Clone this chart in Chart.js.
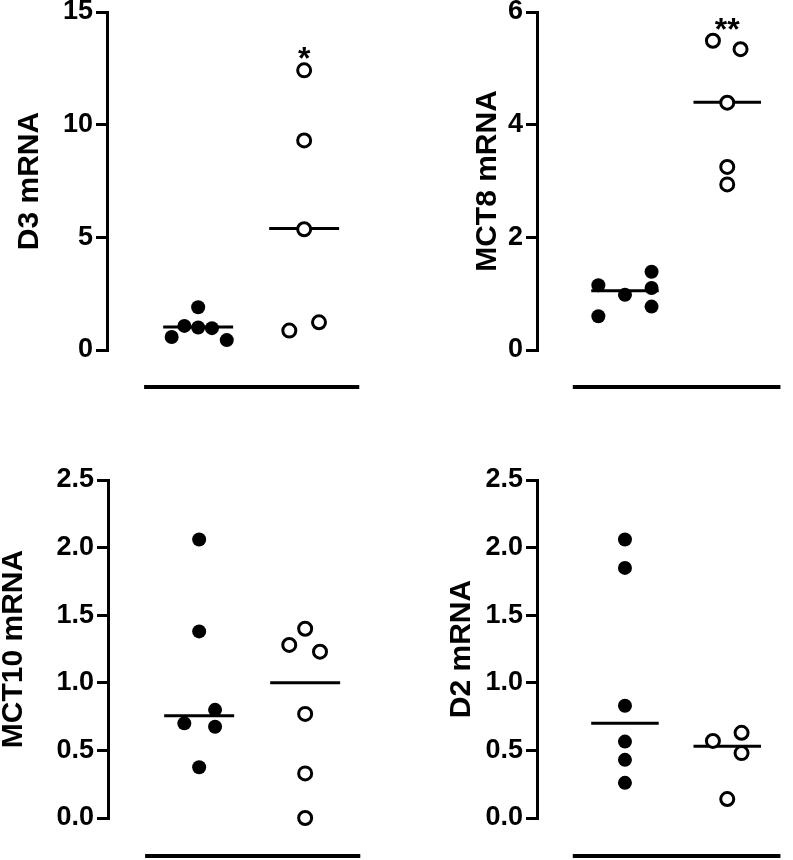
<!DOCTYPE html>
<html><head><meta charset="utf-8">
<script src="https://cdn.jsdelivr.net/npm/chart.js@4/dist/chart.umd.min.js"></script>
<style>
html,body{margin:0;padding:0;background:#fff;}
#wrap{position:relative;width:793px;height:860px;overflow:hidden;background:#fff;}
canvas{position:absolute;}
</style></head><body>
<div id="wrap">
<canvas id="c1"></canvas>
<canvas id="c2"></canvas>
<canvas id="c3"></canvas>
<canvas id="c4"></canvas>
</div>
<script>
// ---------- data ----------
const groups = [1, 2]; // 1 = filled circles, 2 = open circles

// D3 mRNA
const d3Filled = [0.58, 1.07, 1.90, 1.00, 0.97, 0.44];
const d3FilledJitter = [-0.25, -0.13, 0, 0, 0.13, 0.27];
const d3Open = [12.41, 9.30, 5.36, 0.86, 1.23];
const d3OpenJitter = [0, 0, 0, -0.14, 0.14];
const d3Medians = [1.02, 5.39];
const d3Ticks = [0, 5, 10, 15];
const d3TickLabels = ['0', '5', '10', '15'];
const d3Sig = '*';

// MCT8 mRNA
const mct8Filled = [1.15, 0.60, 0.98, 1.39, 1.10, 0.77];
const mct8FilledJitter = [-0.26, -0.26, 0, 0.26, 0.26, 0.26];
const mct8Open = [5.49, 5.34, 4.39, 3.25, 2.94];
const mct8OpenJitter = [-0.14, 0.13, 0, 0, 0];
const mct8Medians = [1.05, 4.40];
const mct8Ticks = [0, 2, 4, 6];
const mct8TickLabels = ['0', '2', '4', '6'];
const mct8Sig = '**';

// MCT10 mRNA
const mct10Filled = [2.06, 1.38, 0.80, 0.70, 0.675, 0.375];
const mct10FilledJitter = [0, 0, 0.15, -0.14, 0.15, 0];
const mct10Open = [1.40, 1.28, 1.23, 0.77, 0.33, 0.0];
const mct10OpenJitter = [0, -0.15, 0.14, 0, 0, 0];
const mct10Medians = [0.757, 1.00];
const mct10Ticks = [0, 0.5, 1.0, 1.5, 2.0, 2.5];
const mct10TickLabels = ['0.0', '0.5', '1.0', '1.5', '2.0', '2.5'];
const mct10Sig = '';

// D2 mRNA
const d2Filled = [2.06, 1.85, 0.83, 0.565, 0.43, 0.26];
const d2FilledJitter = [0, 0, 0, 0, 0, 0];
const d2Open = [0.57, 0.63, 0.48, 0.14];
const d2OpenJitter = [-0.14, 0.14, 0.14, 0];
const d2Medians = [0.70, 0.53];
const d2Ticks = [0, 0.5, 1.0, 1.5, 2.0, 2.5];
const d2TickLabels = ['0.0', '0.5', '1.0', '1.5', '2.0', '2.5'];
const d2Sig = '';

// ---------- drawing ----------
const FONT = '"Liberation Sans", Arial, Helvetica, sans-serif';
const XMIN = 0.14, XMAX = 2.55, PX_PER_UNIT = 106;
const PLOT_W = (XMAX - XMIN) * PX_PER_UNIT;

const groupBarPlugin = {
  id: 'groupBar',
  afterDatasetsDraw(chart, args, opts) {
    const {ctx, chartArea, scales: {x, y}} = chart;
    ctx.save();
    ctx.strokeStyle = '#000';
    ctx.lineWidth = 4;
    const yy = chartArea.bottom + opts.gap;
    ctx.beginPath();
    ctx.moveTo(x.getPixelForValue(opts.from), yy);
    ctx.lineTo(x.getPixelForValue(opts.to), yy);
    ctx.stroke();
    if (opts.sig) {
      const maxV = Math.max(...opts.sigValues);
      ctx.fillStyle = '#000';
      ctx.font = 'bold 32px ' + FONT;
      ctx.textAlign = 'center';
      ctx.textBaseline = 'alphabetic';
      ctx.fillText(opts.sig, x.getPixelForValue(groups[1]), y.getPixelForValue(maxV) - 1);
    }
    ctx.restore();
  }
};

function pts(vals, jit, g) {
  return vals.map((v, i) => ({x: g + jit[i], y: v}));
}

function makePanel(id, p) {
  const cv = document.getElementById(id);
  cv.width = p.cw; cv.height = p.ch;
  cv.style.left = p.cl + 'px'; cv.style.top = p.ct + 'px';
  cv.style.width = p.cw + 'px'; cv.style.height = p.ch + 'px';
  const axisW = p.axisX - p.cl;
  const padTop = p.top - p.ct;
  const padBottom = p.ct + p.ch - p.bottom;
  const padRight = p.cl + p.cw - (p.axisX + PLOT_W);
  const medianSets = p.medians.map((m, i) => ({
    data: [{x: groups[i] - 0.33, y: m}, {x: groups[i] + 0.33, y: m}],
    showLine: true, borderColor: '#000', borderWidth: 3, pointRadius: 0, order: 3, clip: false
  }));
  new Chart(cv, {
    type: 'scatter',
    data: {
      datasets: [
        {data: pts(p.filled, p.filledJ, groups[0]), pointRadius: 7, pointBackgroundColor: '#000',
         pointBorderColor: '#000', pointBorderWidth: 0, order: 1, clip: false},
        {data: pts(p.open, p.openJ, groups[1]), pointRadius: 6.5, pointBackgroundColor: '#fff',
         pointBorderColor: '#000', pointBorderWidth: 3, order: 1, clip: false},
        ...medianSets
      ]
    },
    options: {
      responsive: false,
      animation: false,
      devicePixelRatio: 1,
      layout: {padding: {top: padTop, bottom: padBottom, left: 0, right: padRight}},
      plugins: {
        legend: {display: false}, tooltip: {enabled: false},
        groupBar: {gap: p.gap, from: 0.49, to: 2.52, sig: p.sig, sigValues: p.open}
      },
      scales: {
        x: {type: 'linear', min: XMIN, max: XMAX, display: false},
        y: {
          type: 'linear', min: p.ticks[0], max: p.ticks[p.ticks.length - 1],
          afterBuildTicks: s => { s.ticks = p.ticks.map(v => ({value: v})); },
          afterFit: s => { s.width = axisW; },
          ticks: {callback: (v, i) => p.tickLabels[i], color: '#000', padding: 3,
                  font: {family: FONT, size: 27, weight: 'bold'}},
          grid: {drawOnChartArea: false, drawTicks: true, tickLength: 11, color: '#000', lineWidth: 3},
          border: {display: true, color: '#000', width: 3},
          title: {display: true, text: p.title, color: '#000',
                  font: {family: FONT, size: 30, weight: 'bold'},
                  padding: {top: p.titlePad, bottom: 0}}
        }
      }
    },
    plugins: [groupBarPlugin]
  });
}

makePanel('c1', {cl: 0, ct: -20, cw: 400, ch: 420, axisX: 107, top: 12, bottom: 350, gap: 37, titlePad: 12,
  title: 'D3 mRNA', filled: d3Filled, filledJ: d3FilledJitter, open: d3Open, openJ: d3OpenJitter,
  medians: d3Medians, ticks: d3Ticks, tickLabels: d3TickLabels, sig: d3Sig});
makePanel('c2', {cl: 400, ct: -20, cw: 393, ch: 420, axisX: 537, top: 12, bottom: 350, gap: 37, titlePad: 70,
  title: 'MCT8 mRNA', filled: mct8Filled, filledJ: mct8FilledJitter, open: mct8Open, openJ: mct8OpenJitter,
  medians: mct8Medians, ticks: mct8Ticks, tickLabels: mct8TickLabels, sig: mct8Sig});
makePanel('c3', {cl: -10, ct: 440, cw: 410, ch: 420, axisX: 108, top: 480, bottom: 818, gap: 38, titlePad: 6,
  title: 'MCT10 mRNA', filled: mct10Filled, filledJ: mct10FilledJitter, open: mct10Open, openJ: mct10OpenJitter,
  medians: mct10Medians, ticks: mct10Ticks, tickLabels: mct10TickLabels, sig: mct10Sig});
makePanel('c4', {cl: 400, ct: 440, cw: 393, ch: 420, axisX: 537, top: 480, bottom: 818, gap: 38, titlePad: 44,
  title: 'D2 mRNA', filled: d2Filled, filledJ: d2FilledJitter, open: d2Open, openJ: d2OpenJitter,
  medians: d2Medians, ticks: d2Ticks, tickLabels: d2TickLabels, sig: d2Sig});
</script>
</body></html>
